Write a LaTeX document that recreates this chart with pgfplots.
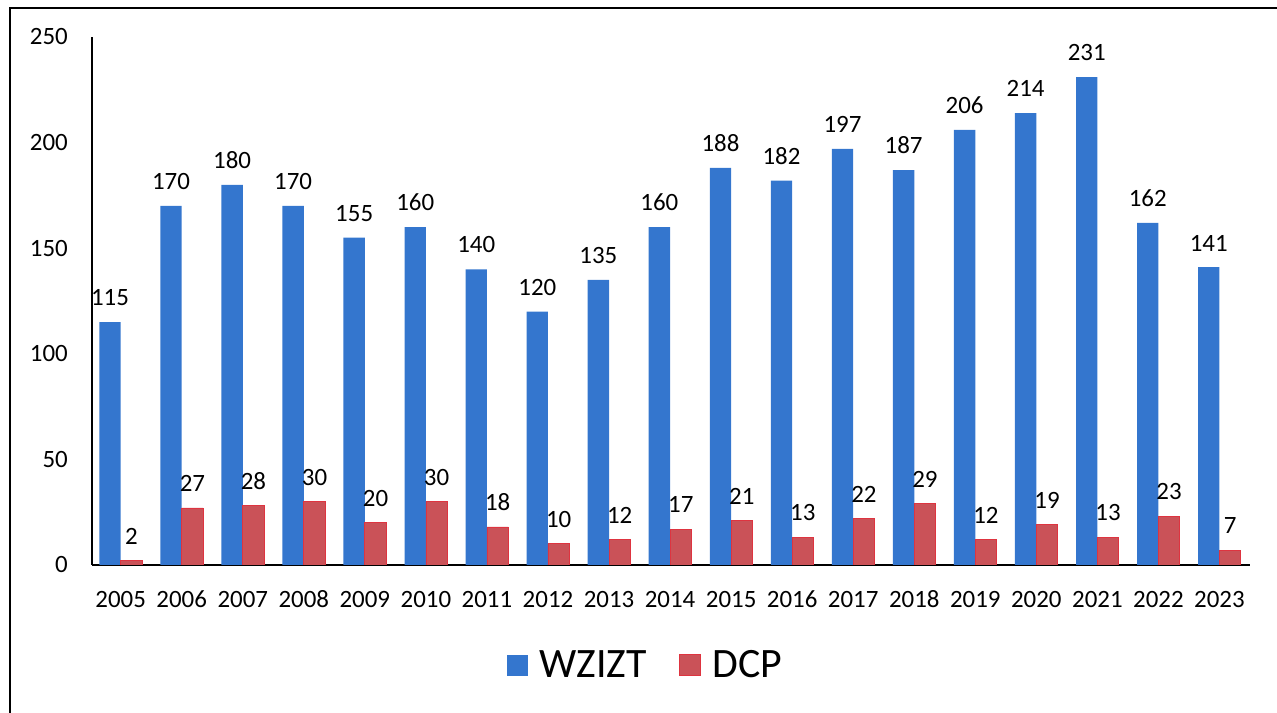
\documentclass[border=0pt]{standalone}
\usepackage{fontspec}
\setmainfont{Carlito}
\usepackage{pgfplots}
\pgfplotsset{compat=1.18}

\definecolor{wzblue}{RGB}{52,118,206}
\definecolor{dcpred}{RGB}{202,82,88}
\definecolor{dcpedge}{RGB}{222,52,64}

\begin{document}
\begin{tikzpicture}
% page frame (scan edges on the left and top)
\path[use as bounding box] (0,0) rectangle (1277bp,713bp);
\draw[line width=1.6bp] (10bp,0) -- (10bp,705bp) -- (1277bp,705bp);

\begin{axis}[
  at={(92bp,148bp)}, anchor=south west,
  scale only axis,
  width=1158bp, height=528bp,
  ymin=0, ymax=250,
  xmin=-0.47, xmax=18.5,
  ybar, bar width=0.35,
  axis x line=bottom, axis y line=left,
  axis line style={-, line width=1.2bp, black},
  major tick length=0pt,
  ytick={0,50,100,150,200,250},
  xtick=data,
  xticklabels={2005,2006,2007,2008,2009,2010,2011,2012,2013,2014,2015,2016,2017,2018,2019,2020,2021,2022,2023},
  /pgf/number format/assume math mode=true,
  ticklabel style={font=\fontsize{25}{30}\selectfont, inner sep=0pt},
  xticklabel style={yshift=-26bp, text height=16bp, text depth=0pt},
  yticklabel style={xshift=-24bp},
  nodes near coords,
  nodes near coords style={font=\fontsize{25}{30}\selectfont, inner sep=0pt, yshift=16bp, text=black},
  legend style={at={(0.478,-0.189)}, anchor=center, legend columns=2, draw=none,
    font=\fontsize{42}{48}\selectfont,
    /tikz/every odd column/.append style={column sep=10bp},
    /tikz/every even column/.append style={column sep=30bp}},
  legend image code/.code={\path[#1] (0bp,-11bp) rectangle (21bp,10bp);},
]
\addplot[fill=wzblue, draw=none, bar shift=-0.175] coordinates {
  (0,115) (1,170) (2,180) (3,170) (4,155) (5,160) (6,140) (7,120) (8,135)
  (9,160) (10,188) (11,182) (12,197) (13,187) (14,206) (15,214) (16,231)
  (17,162) (18,141)
};
\addlegendentry{WZIZT}
\addplot[fill=dcpred, draw=dcpedge, line width=0.8bp, bar shift=0.175] coordinates {
  (0,2) (1,27) (2,28) (3,30) (4,20) (5,30) (6,18) (7,10) (8,12)
  (9,17) (10,21) (11,13) (12,22) (13,29) (14,12) (15,19) (16,13)
  (17,23) (18,7)
};
\addlegendentry{DCP}
\end{axis}
\end{tikzpicture}
\end{document}
